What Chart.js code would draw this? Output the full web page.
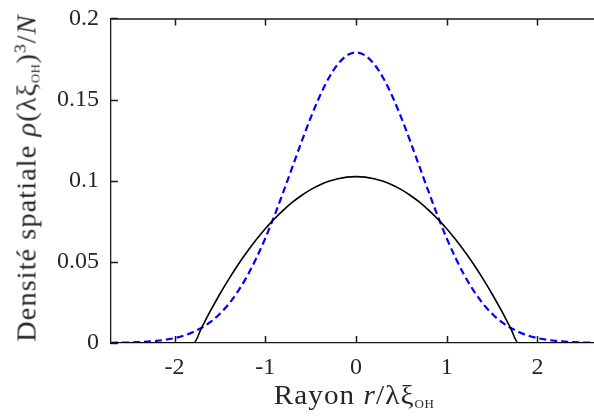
<!DOCTYPE html>
<html>
<head>
<meta charset="utf-8">
<script src="https://cdn.jsdelivr.net/npm/chart.js@4"></script>
<style>
  html, body { margin: 0; padding: 0; background: #fff; overflow: hidden; }
  #wrap { position: relative; width: 604px; height: 417px; }
  .lbl { position: absolute; font-family: "Liberation Serif", serif; font-size: 27px; color: #262626; white-space: nowrap; letter-spacing: 1px; }
  .lbl sub { font-size: 12px; vertical-align: -4px; letter-spacing: 0.5px; }
  .lbl sup { font-size: 17px; vertical-align: 10px; }
  #xt { left: 354px; top: 396px; transform: translate(-50%, -50%) scaleX(1.08); }
  #yt { left: 27px; top: 178px; transform: translate(-50%, -50%) rotate(-90deg) scaleX(1.05); }
</style>
</head>
<body>
<div id="wrap">
  <canvas id="myChart"></canvas>
  <div class="lbl" id="xt">Rayon <i>r</i>/λξ<sub>OH</sub></div>
  <div class="lbl" id="yt">Densité spatiale <i>ρ</i>(λξ<sub>OH</sub>)<sup>3</sup>/<i>N</i></div>
</div>
<script>
// donnees
const rayon = [-2.7, -2.6, -2.5, -2.4, -2.3, -2.2, -2.1, -2.0, -1.9, -1.8, -1.79, -1.7, -1.6, -1.5, -1.4, -1.3, -1.2, -1.1, -1.0,
  -0.9, -0.8, -0.7, -0.6, -0.5, -0.4, -0.3, -0.2, -0.1, 0, 0.1, 0.2, 0.3, 0.4, 0.5, 0.6, 0.7, 0.8, 0.9,
  1.0, 1.1, 1.2, 1.3, 1.4, 1.5, 1.6, 1.7, 1.79, 1.8, 1.9, 2.0, 2.1, 2.2, 2.3, 2.4, 2.5, 2.6, 2.7];

// profil Thomas-Fermi (trait noir)
const densiteTF = [0, 0, 0, 0, 0, 0, 0, 0, 0, 0, 0, 0.0096, 0.0202, 0.0302, 0.0395, 0.0482, 0.0562, 0.0636, 0.0704,
  0.0765, 0.0819, 0.0868, 0.0909, 0.0945, 0.0974, 0.0996, 0.1012, 0.1022, 0.1025, 0.1022, 0.1012, 0.0996, 0.0974, 0.0945, 0.0909, 0.0868, 0.0819, 0.0765,
  0.0704, 0.0636, 0.0562, 0.0482, 0.0395, 0.0302, 0.0202, 0.0096, 0, 0, 0, 0, 0, 0, 0, 0, 0, 0, 0];

// profil gaussien (tirets bleus)
const densiteGauss = [0.0001, 0.0002, 0.0003, 0.0005, 0.0008, 0.0013, 0.0020, 0.0030, 0.0045, 0.0066, 0.0069, 0.0094, 0.0131, 0.0180, 0.0242, 0.0319, 0.0412, 0.0521, 0.0645,
  0.0783, 0.0932, 0.1086, 0.1240, 0.1387, 0.1520, 0.1633, 0.1718, 0.1772, 0.1790, 0.1772, 0.1718, 0.1633, 0.1520, 0.1387, 0.1240, 0.1086, 0.0932, 0.0783,
  0.0645, 0.0521, 0.0412, 0.0319, 0.0242, 0.0180, 0.0131, 0.0094, 0.0069, 0.0066, 0.0045, 0.0030, 0.0020, 0.0013, 0.0008, 0.0005, 0.0003, 0.0002, 0.0001];

const xTicks = [-2, -1, 0, 1, 2];
const yTicks = [0, 0.05, 0.1, 0.15, 0.2];
const yTickLabels = ['0', '0.05', '0.1', '0.15', '0.2'];

const pts = (ys) => rayon.map((x, i) => ({ x: x, y: ys[i] }));

// cadre du haut + graduations vers l'interieur
const cadre = {
  id: 'cadre',
  afterDatasetsDraw(chart) {
    const c = chart.ctx, a = chart.chartArea;
    const sx = chart.scales.x, sy = chart.scales.y;
    c.save();
    c.setLineDash([]);
    c.strokeStyle = '#1a1a1a';
    c.lineWidth = 1.5;
    c.beginPath();
    c.moveTo(a.left, a.top + 0.5);
    c.lineTo(a.right, a.top + 0.5);
    for (const v of xTicks) {
      const px = Math.round(sx.getPixelForValue(v)) + 0.5;
      c.moveTo(px, a.bottom);
      c.lineTo(px, a.bottom - 7);
      c.moveTo(px, a.top);
      c.lineTo(px, a.top + 7);
    }
    for (const v of yTicks) {
      const py = Math.round(sy.getPixelForValue(v)) + 0.5;
      c.moveTo(a.left, py);
      c.lineTo(a.left + 7, py);
    }
    c.stroke();
    c.restore();
  }
};

const ctx = document.getElementById('myChart');

new Chart(ctx, {
  type: 'line',
  data: {
    datasets: [{
      label: 'Thomas-Fermi',
      data: pts(densiteTF),
      borderColor: '#000000',
      borderWidth: 1.6,
      pointRadius: 0,
      cubicInterpolationMode: 'monotone'
    }, {
      label: 'Gaussienne',
      data: pts(densiteGauss),
      borderColor: '#0000ff',
      borderWidth: 2.2,
      borderDash: [7, 4],
      pointRadius: 0,
      cubicInterpolationMode: 'monotone'
    }]
  },
  options: {
    responsive: true,
    maintainAspectRatio: false,
    animation: false,
    events: [],
    layout: { padding: { top: 17, right: 3, left: 0, bottom: 0 } },
    plugins: { legend: { display: false }, tooltip: { enabled: false } },
    scales: {
      x: {
        type: 'linear',
        min: -2.7,
        max: 2.7,
        afterBuildTicks: (s) => { s.ticks = xTicks.map(v => ({ value: v })); },
        afterFit: (s) => { s.height = 74; },
        grid: { display: false },
        border: { display: true, color: '#1a1a1a', width: 1.3 },
        ticks: {
          padding: 2,
          color: '#262626',
          font: { family: 'Liberation Serif', size: 24 },
          maxRotation: 0,
          callback: (v) => String(v)
        }
      },
      y: {
        min: 0,
        max: 0.2,
        afterBuildTicks: (s) => { s.ticks = yTicks.map(v => ({ value: v })); },
        afterFit: (s) => { s.width = 111; },
        grid: { display: false },
        border: { display: true, color: '#1a1a1a', width: 1.3 },
        ticks: {
          padding: 4,
          color: '#262626',
          font: { family: 'Liberation Serif', size: 24 },
          callback: (v) => yTickLabels[yTicks.indexOf(v)]
        }
      }
    }
  },
  plugins: [cadre]
});
</script>
</body>
</html>
